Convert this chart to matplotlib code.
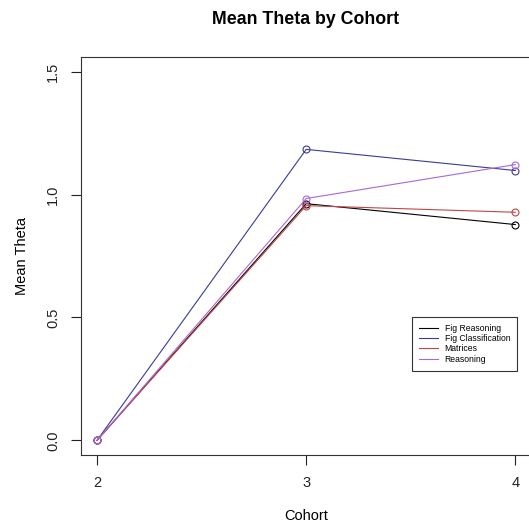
import matplotlib
matplotlib.use("Agg")
import matplotlib.pyplot as plt

plt.rcParams['font.family'] = ['Liberation Sans', 'DejaVu Sans']

cohorts = [2, 3, 4]
fig_reasoning = [0.0, 0.963, 0.878]
fig_classification = [0.0, 1.184, 1.098]
matrices = [0.0, 0.955, 0.928]
reasoning = [0.0, 0.984, 1.122]

series_names = ["Fig Reasoning", "Fig Classification", "Matrices", "Reasoning"]
series_values = [fig_reasoning, fig_classification, matrices, reasoning]
colors = ["#000000", "#3a3a9a", "#c04545", "#a868d4"]

fig = plt.figure(figsize=(5.29, 5.25), dpi=100)
ax = fig.add_axes([81/529, 1-455/525, (532-81)/529, (455-57)/525])

for name, vals, c in zip(series_names, series_values, colors):
    ax.plot(cohorts, vals, color=c, lw=0.8, marker='o', markersize=5,
            markerfacecolor='none', markeredgecolor=c, markeredgewidth=0.8, label=name)

ax.set_xlim(1.923, 4.08)
ax.set_ylim(-0.06, 1.56)
ax.set_xticks([2, 3, 4])
ax.set_yticks([0.0, 0.5, 1.0, 1.5])
ax.set_yticklabels(["0.0", "0.5", "1.0", "1.5"], rotation=90, va='center')
ax.tick_params(axis='both', direction='out', length=7, width=0.8, labelsize=10.5, colors='#222222')
ax.tick_params(axis='x', pad=8)
ax.tick_params(axis='y', pad=8)
for sp in ax.spines.values():
    sp.set_linewidth(0.8)
    sp.set_color('#333333')

ax.set_xlabel("Cohort", fontsize=10.5, labelpad=14)
ax.set_ylabel("Mean Theta", fontsize=10.5, labelpad=12)
fig.text(306/529, 1 - 20/525, "Mean Theta by Cohort", ha='center', va='center',
         fontsize=12.8, fontweight='bold')

leg = ax.legend(loc='upper left', bbox_to_anchor=((412-81)/451, (455-317)/398),
                borderaxespad=0,
                fontsize=6.2, frameon=True, fancybox=False, edgecolor='black',
                handlelength=2.2, handletextpad=0.8, borderpad=0.8, labelspacing=0.15,
                markerscale=0)
leg.get_frame().set_linewidth(0.8)
for h in leg.legend_handles:
    h.set_marker('')

fig.savefig("out.png", dpi=100)
